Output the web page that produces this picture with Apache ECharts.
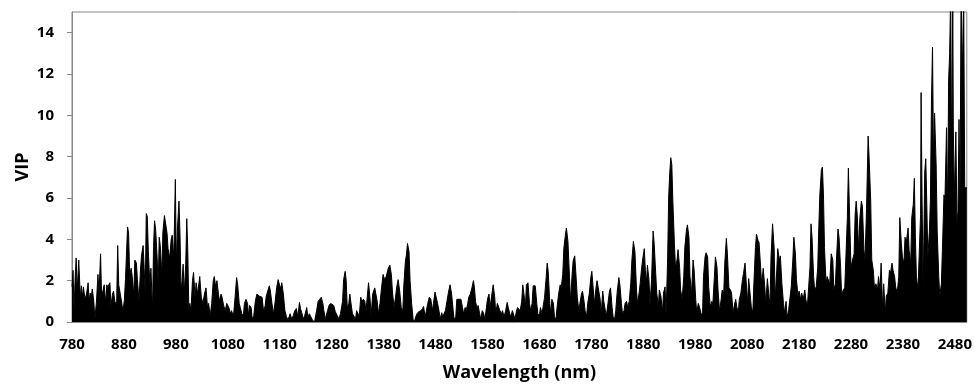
<!DOCTYPE html>
<html>
<head>
<meta charset="utf-8">
<script src="https://cdn.jsdelivr.net/npm/echarts@6/dist/echarts.min.js"></script>
<style>
  html, body { margin: 0; padding: 0; background: #fff; }
  #chart { width: 975px; height: 387px; }
</style>
</head>
<body>
<div id="chart"></div>
<script>
// wavelengths (nm) of the peaks and troughs
const wavelength = [
  780, 782, 784, 786, 788, 790, 793, 796, 798, 800,
  802, 805, 808, 811, 813, 815, 817, 819, 822, 824,
  827, 830, 832, 835, 837, 840, 842, 845, 847, 849,
  853, 855, 858, 860, 863, 866, 868, 870, 873, 876,
  878, 881, 883, 887, 889, 891, 894, 896, 899, 901,
  904, 906, 909, 912, 914, 917, 919, 921, 923, 925,
  927, 930, 932, 935, 937, 939, 941, 944, 946, 948,
  950, 953, 955, 958, 960, 963, 965, 968, 971, 973,
  976, 979, 981, 983, 986, 988, 990, 992, 994, 996,
  999, 1001, 1003, 1005, 1007, 1009, 1012, 1014, 1017, 1019,
  1022, 1024, 1026, 1029, 1032, 1035, 1038, 1041, 1043, 1046,
  1049, 1052, 1054, 1057, 1059, 1062, 1064, 1067, 1069, 1072,
  1075, 1078, 1080, 1082, 1085, 1087, 1091, 1094, 1097, 1099,
  1102, 1104, 1107, 1110, 1112, 1115, 1118, 1120, 1122, 1125,
  1127, 1130, 1133, 1136, 1139, 1141, 1144, 1146, 1149, 1152,
  1154, 1157, 1160, 1162, 1165, 1168, 1171, 1174, 1177, 1180,
  1182, 1184, 1187, 1190, 1193, 1196, 1200, 1203, 1206, 1209,
  1212, 1215, 1218, 1220, 1223, 1225, 1228, 1232, 1234, 1237,
  1240, 1243, 1247, 1251, 1254, 1257, 1260, 1263, 1265, 1268,
  1272, 1275, 1278, 1281, 1284, 1287, 1291, 1294, 1297, 1301,
  1303, 1306, 1308, 1310, 1313, 1315, 1317, 1320, 1322, 1326,
  1328, 1331, 1333, 1336, 1338, 1341, 1344, 1346, 1349, 1351,
  1354, 1356, 1359, 1363, 1365, 1368, 1370, 1373, 1376, 1379,
  1382, 1385, 1389, 1392, 1395, 1397, 1400, 1403, 1405, 1408,
  1411, 1414, 1417, 1419, 1422, 1424, 1426, 1429, 1431, 1434,
  1437, 1439, 1442, 1444, 1448, 1452, 1455, 1457, 1460, 1462,
  1465, 1468, 1471, 1474, 1476, 1479, 1481, 1484, 1487, 1489,
  1492, 1494, 1497, 1499, 1502, 1505, 1508, 1511, 1514, 1516,
  1519, 1521, 1525, 1529, 1532, 1534, 1537, 1539, 1542, 1544,
  1547, 1550, 1553, 1555, 1557, 1560, 1562, 1565, 1567, 1570,
  1573, 1575, 1578, 1580, 1583, 1585, 1588, 1591, 1594, 1596,
  1599, 1601, 1604, 1607, 1609, 1612, 1615, 1618, 1620, 1623,
  1625, 1628, 1630, 1633, 1636, 1638, 1641, 1643, 1646, 1648,
  1651, 1653, 1655, 1658, 1661, 1663, 1666, 1668, 1672, 1675,
  1677, 1680, 1682, 1685, 1687, 1690, 1693, 1695, 1697, 1700,
  1702, 1704, 1707, 1709, 1712, 1714, 1717, 1720, 1722, 1725,
  1727, 1730, 1732, 1735, 1738, 1740, 1743, 1745, 1748, 1750,
  1753, 1756, 1758, 1761, 1763, 1766, 1768, 1771, 1773, 1776,
  1779, 1781, 1784, 1786, 1789, 1791, 1794, 1797, 1799, 1802,
  1804, 1807, 1809, 1812, 1815, 1817, 1820, 1822, 1825, 1827,
  1830, 1833, 1835, 1838, 1840, 1843, 1845, 1848, 1850, 1853,
  1856, 1858, 1861, 1864, 1867, 1869, 1872, 1874, 1877, 1879,
  1882, 1884, 1886, 1888, 1891, 1893, 1896, 1899, 1901, 1904,
  1906, 1909, 1911, 1914, 1917, 1919, 1922, 1924, 1927, 1929,
  1931, 1933, 1935, 1937, 1940, 1942, 1945, 1947, 1950, 1952,
  1955, 1958, 1960, 1963, 1965, 1968, 1970, 1973, 1976, 1978,
  1981, 1983, 1986, 1988, 1991, 1994, 1996, 1999, 2001, 2004,
  2006, 2009, 2012, 2014, 2017, 2019, 2022, 2024, 2027, 2030,
  2032, 2035, 2037, 2040, 2042, 2045, 2048, 2050, 2053, 2055,
  2058, 2060, 2063, 2065, 2068, 2071, 2073, 2076, 2078, 2081,
  2083, 2086, 2088, 2091, 2093, 2096, 2098, 2101, 2103, 2106,
  2108, 2111, 2114, 2116, 2119, 2121, 2124, 2126, 2129, 2132,
  2134, 2137, 2139, 2142, 2144, 2147, 2150, 2152, 2155, 2157,
  2160, 2162, 2165, 2168, 2170, 2173, 2175, 2178, 2180, 2183,
  2185, 2188, 2191, 2193, 2196, 2198, 2201, 2203, 2205, 2208,
  2210, 2213, 2216, 2218, 2220, 2223, 2225, 2227, 2229, 2232,
  2234, 2237, 2239, 2242, 2245, 2247, 2250, 2252, 2255, 2257,
  2260, 2262, 2265, 2268, 2270, 2273, 2275, 2278, 2280, 2283,
  2286, 2288, 2290, 2292, 2295, 2297, 2300, 2302, 2305, 2307,
  2310, 2313, 2315, 2318, 2320, 2323, 2325, 2328, 2331, 2333,
  2336, 2338, 2341, 2343, 2346, 2348, 2351, 2354, 2356, 2359,
  2361, 2364, 2366, 2369, 2372, 2374, 2377, 2379, 2382, 2384,
  2387, 2390, 2392, 2395, 2397, 2400, 2402, 2404, 2406, 2409,
  2411, 2414, 2415, 2417, 2419, 2422, 2424, 2426, 2428, 2431,
  2433, 2435, 2437, 2439, 2441, 2444, 2446, 2449, 2451, 2454,
  2456, 2459, 2461, 2464, 2466, 2468, 2470, 2472, 2474, 2476,
  2477, 2479, 2482, 2484, 2486, 2488, 2490, 2492, 2495, 2497,
  2499, 2501, 2503
];

const vip = [
  1.7, 2.5, 0.6, 2.1, 3.1, 1.5, 3.0, 1.2, 1.75, 1.2,
  1.7, 1.1, 1.35, 1.9, 1.0, 1.4, 1.2, 1.6, 1.0, 0.15,
  0.95, 2.3, 1.35, 3.3, 1.2, 1.2, 1.8, 0.9, 1.8, 1.7,
  1.9, 0.8, 1.35, 1.5, 0.9, 1.0, 3.7, 1.8, 1.85, 0.9,
  0.5, 1.1, 2.1, 4.6, 4.3, 2.3, 2.6, 2.2, 1.3, 3.0,
  2.85, 2.05, 1.0, 2.6, 3.25, 3.7, 2.6, 1.35, 5.25, 5.1,
  3.4, 1.8, 2.6, 0.55, 3.65, 4.9, 4.5, 3.1, 1.8, 4.1,
  3.7, 2.3, 4.35, 5.15, 5.1, 4.3, 3.55, 3.1, 4.0, 4.2,
  3.1, 6.9, 2.7, 4.5, 5.85, 4.2, 1.5, 2.0, 2.8, 1.35,
  2.8, 5.0, 3.4, 0.55, 0.9, 0.5, 2.0, 2.4, 1.2, 1.9,
  1.35, 1.8, 2.2, 1.2, 0.9, 1.35, 1.65, 0.7, 0.9, 0.3,
  0.9, 2.0, 2.2, 1.65, 2.0, 1.35, 1.0, 1.35, 1.2, 0.8,
  0.55, 0.9, 0.95, 0.7, 0.4, 0.55, 0.3, 1.2, 2.15, 1.8,
  0.9, 0.7, 0.4, 0.3, 0.9, 1.1, 0.9, 0.3, 0.8, 0.7,
  0.15, 0.3, 1.0, 1.35, 1.35, 1.25, 1.2, 1.2, 0.5, 0.8,
  1.25, 1.5, 1.75, 1.5, 0.9, 0.4, 0.95, 1.65, 2.05, 1.75,
  1.65, 1.9, 1.35, 0.55, 0.25, 0.1, 0.4, 0.15, 0.3, 0.55,
  0.65, 0.25, 0.95, 0.65, 0.4, 0.15, 0.3, 0.7, 0.25, 0.4,
  0.25, 0.1, 0.0, 0.55, 1.0, 1.1, 1.2, 0.9, 0.55, 0.15,
  0.55, 0.8, 0.9, 0.9, 0.8, 0.5, 0.3, 0.15, 0.4, 1.0,
  2.05, 2.45, 2.0, 0.7, 0.9, 1.35, 0.95, 0.4, 0.4, 0.15,
  0.55, 0.4, 0.25, 1.2, 1.0, 1.1, 1.0, 0.5, 1.35, 1.9,
  1.1, 0.3, 1.35, 1.65, 1.6, 0.95, 0.4, 0.9, 1.65, 2.3,
  2.05, 2.2, 2.6, 2.75, 2.3, 1.5, 0.7, 1.2, 1.65, 2.05,
  1.5, 0.7, 0.55, 1.8, 2.95, 3.25, 3.8, 3.4, 2.0, 0.9,
  0.1, 0.0, 0.25, 0.4, 0.5, 0.55, 0.65, 0.75, 0.25, 0.5,
  0.9, 1.2, 1.1, 0.55, 0.9, 1.45, 1.5, 0.9, 0.5, 0.15,
  0.45, 0.25, 0.3, 0.55, 1.0, 1.45, 1.8, 1.35, 0.55, 0.1,
  0.25, 1.1, 1.1, 1.1, 0.7, 0.4, 0.7, 0.55, 0.9, 1.2,
  1.35, 1.65, 2.0, 1.65, 1.0, 0.65, 0.8, 0.4, 0.15, 0.55,
  0.4, 0.1, 0.7, 1.1, 1.35, 0.7, 1.25, 1.8, 1.2, 0.4,
  0.9, 0.95, 0.55, 0.4, 0.55, 0.25, 0.55, 0.95, 0.7, 0.4,
  0.25, 0.55, 0.5, 0.15, 0.55, 0.7, 0.65, 0.55, 1.0, 1.8,
  1.2, 0.7, 1.8, 1.9, 0.9, 0.55, 0.9, 1.75, 1.75, 0.9,
  0.4, 0.3, 0.7, 0.4, 0.4, 1.2, 2.15, 2.85, 2.45, 0.9,
  0.4, 1.1, 0.9, 0.25, 0.15, 0.7, 1.35, 1.8, 1.65, 2.3,
  3.55, 4.2, 4.55, 3.9, 2.15, 1.0, 2.3, 2.95, 3.2, 2.45,
  1.2, 0.55, 0.9, 1.35, 1.5, 1.0, 0.55, 0.3, 0.9, 1.35,
  2.15, 2.45, 1.5, 0.9, 1.65, 2.0, 2.0, 1.1, 0.4, 1.5,
  1.0, 0.55, 0.3, 0.9, 1.5, 1.65, 0.7, 0.25, 0.15, 0.55,
  1.5, 2.15, 1.8, 0.9, 0.4, 0.55, 0.9, 1.0, 0.7, 1.0,
  1.9, 2.95, 3.9, 3.4, 1.55, 0.9, 1.4, 1.85, 2.65, 3.05,
  3.55, 2.5, 1.85, 2.75, 2.05, 0.85, 2.05, 4.4, 3.8, 2.35,
  1.4, 0.75, 1.55, 1.25, 0.5, 1.4, 1.7, 0.35, 3.15, 6.1,
  7.2, 7.95, 7.6, 5.85, 3.8, 2.65, 3.0, 3.5, 2.65, 1.55,
  1.1, 2.2, 3.6, 4.4, 4.7, 4.1, 2.2, 1.4, 3.0, 2.5,
  1.1, 0.45, 0.9, 0.75, 0.45, 0.2, 2.2, 3.15, 3.35, 3.15,
  1.7, 0.75, 1.0, 0.85, 2.2, 3.15, 2.65, 1.55, 0.5, 1.1,
  1.55, 1.4, 2.85, 4.05, 3.3, 1.65, 1.55, 1.4, 0.45, 0.75,
  1.1, 0.75, 0.45, 1.1, 1.4, 2.05, 2.35, 2.85, 2.05, 0.9,
  2.1, 2.05, 0.75, 0.45, 1.85, 3.6, 4.25, 3.95, 3.85, 2.65,
  1.85, 2.6, 1.7, 0.9, 2.1, 1.55, 0.75, 3.15, 4.75, 3.6,
  1.1, 2.5, 3.55, 3.0, 3.2, 1.85, 0.9, 0.45, 1.0, 0.2,
  0.6, 0.6, 1.7, 3.0, 4.1, 3.3, 2.05, 1.25, 1.5, 1.1,
  1.4, 1.1, 1.55, 1.1, 0.75, 0.7, 2.65, 4.75, 4.1, 2.2,
  1.55, 1.7, 2.65, 4.55, 6.15, 7.35, 7.5, 6.15, 3.6, 1.85,
  2.2, 2.2, 1.85, 3.3, 3.0, 1.55, 1.85, 3.0, 4.5, 4.1,
  2.65, 1.25, 1.55, 1.65, 3.0, 5.05, 7.45, 4.55, 2.65, 3.0,
  3.3, 5.2, 5.85, 5.2, 3.45, 5.0, 5.85, 5.6, 3.5, 3.0,
  5.5, 9.0, 7.9, 5.85, 3.0, 2.5, 1.7, 1.85, 1.55, 2.2,
  1.55, 2.85, 0.6, 1.85, 0.45, 1.25, 1.4, 2.5, 2.35, 2.85,
  2.5, 2.2, 1.7, 1.4, 2.2, 5.05, 3.8, 3.15, 2.85, 4.1,
  3.95, 4.55, 3.45, 2.85, 5.05, 5.7, 6.95, 4.1, 2.2, 1.55,
  3.0, 5.2, 11.1, 5.7, 1.55, 7.25, 7.9, 5.7, 3.15, 4.4,
  6.0, 10.75, 13.3, 7.6, 10.1, 7.6, 4.4, 2.2, 1.25, 1.85,
  3.45, 6.15, 6.0, 9.4, 5.2, 11.7, 13.0, 16, 7.1, 16,
  9.5, 6.0, 9.2, 4.75, 5.35, 9.8, 6.0, 16, 12.0, 16,
  6.5, 6.5, 6.5
];

const xTicks = [780, 880, 980, 1080, 1180, 1280, 1380, 1480, 1580, 1680,
  1780, 1880, 1980, 2080, 2180, 2280, 2380, 2480];
const yTicks = [0, 2, 4, 6, 8, 10, 12, 14];

const FONT = "'Open Sans', 'DejaVu Sans', sans-serif";
const AXIS_GREY = "#878787";

const chart = echarts.init(document.getElementById("chart"), null, { renderer: "canvas" });

chart.setOption({
  animation: false,
  grid: {
    left: 72, right: 8, top: 12, bottom: 61,
    show: true, borderColor: AXIS_GREY, borderWidth: 1
  },
  xAxis: {
    type: "value",
    min: 780,
    max: 2503,
    name: "Wavelength (nm)",
    nameLocation: "middle",
    nameGap: 42,
    nameMoveOverlap: false,
    nameTextStyle: { fontFamily: FONT, fontWeight: "bold", fontSize: 18, color: "#000" },
    axisLine: { show: true, lineStyle: { color: AXIS_GREY, width: 1 } },
    axisTick: { show: false },
    splitLine: { show: false },
    axisLabel: {
      customValues: xTicks,
      formatter: (v) => String(v),
      margin: 15,
      fontFamily: FONT, fontWeight: "bold", fontSize: 15, color: "#000"
    }
  },
  yAxis: {
    type: "value",
    min: 0,
    max: 15,
    name: "VIP",
    nameLocation: "middle",
    nameGap: 40,
    nameMoveOverlap: false,
    nameTextStyle: { fontFamily: FONT, fontWeight: "bold", fontSize: 18, color: "#000" },
    axisLine: { show: true, lineStyle: { color: AXIS_GREY, width: 1 } },
    axisTick: { show: true, customValues: yTicks, length: 5, lineStyle: { color: AXIS_GREY } },
    splitLine: { show: false },
    axisLabel: {
      customValues: yTicks,
      formatter: (v) => String(v),
      margin: 18,
      fontFamily: FONT, fontWeight: "bold", fontSize: 15, color: "#000"
    }
  },
  series: [{
    type: "line",
    data: wavelength.map((w, i) => [w, vip[i]]),
    showSymbol: false,
    clip: true,
    lineStyle: { color: "#000", width: 1 },
    areaStyle: { color: "#000", opacity: 1 }
  }]
});
</script>
</body>
</html>
